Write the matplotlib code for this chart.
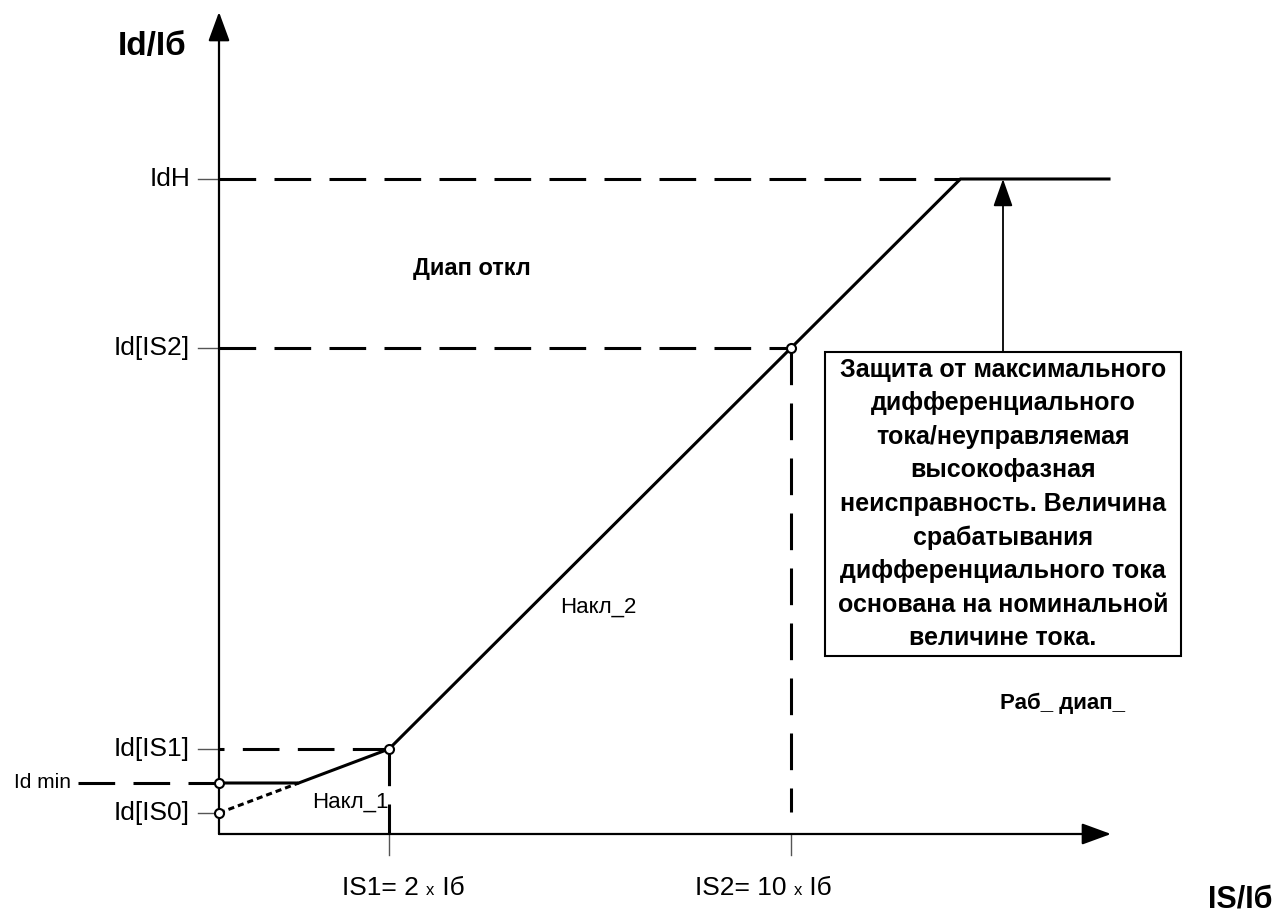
import matplotlib
matplotlib.use("Agg")
import matplotlib.pyplot as plt
from matplotlib.patches import Rectangle
from matplotlib.offsetbox import TextArea, HPacker, AnnotationBbox

plt.rcParams['font.family'] = ['Liberation Sans', 'DejaVu Sans']

# schematic levels (arbitrary units, not to scale)
y_names = ['Id[IS0]', 'Id min', 'Id[IS1]', 'Id[IS2]', 'IdH']
y_vals = [0.21, 0.51, 0.85, 4.86, 6.55]
x_names = ['IS1', 'IS2']
x_mult = ['2', '10']
x_vals = [1.70, 5.72]
x_end = 8.90
y_top = 8.22

box_text = ("Защита от максимального\nдифференциального\nтока/неуправляемая\n"
            "высокофазная\nнеисправность. Величина\nсрабатывания\n"
            "дифференциального тока\nоснована на номинальной\nвеличине тока.")

is0, idmin, is1y, is2y, idh = y_vals
xs1, xs2 = x_vals
slope1 = (is1y - is0) / xs1
slope2 = (is2y - is1y) / (xs2 - xs1)
x_knee = (idmin - is0) / slope1
x_h = xs2 + (idh - is2y) / slope2

fig = plt.figure(figsize=(12.87, 9.14), dpi=100)
ax = fig.add_axes([0, 0, 1, 1])
ax.set_xlim(-2.19, 10.68)
ax.set_ylim(-0.80, 8.34)
ax.axis('off')

lw = 2.2
dash = dict(color='black', lw=lw, dashes=(12, 6))

# axes with arrows
arr = dict(arrowstyle='-|>,head_length=0.9,head_width=0.33', color='black', lw=1.6,
           mutation_scale=20, shrinkA=0, shrinkB=0)
ax.annotate('', xy=(0, y_top), xytext=(0, 0), arrowprops=arr)
ax.annotate('', xy=(x_end + 0.02, 0), xytext=(0, 0), arrowprops=arr)

# y ticks + labels
for name, v in zip(y_names, y_vals):
    if name == 'Id min':
        ax.text(-1.48, v, name, ha='right', va='center', fontsize=15)
        ax.plot([-1.41, 0], [v, v], **dash)
    else:
        ax.plot([-0.21, 0], [v, v], color='#555555', lw=1)
        ax.text(-0.29, v, name, ha='right', va='center', fontsize=19)

# dashed guides
ax.plot([xs1, 0], [is1y, is1y], **dash)
ax.plot([0, xs2], [is2y, is2y], **dash)
ax.plot([0, x_h], [idh, idh], **dash)
ax.plot([xs1, xs1], [is1y, 0], **dash)
ax.plot([xs2, xs2], [is2y, 0.22], **dash)
for xv in x_vals:
    ax.plot([xv, xv], [0, -0.21], color='#555555', lw=1)

# characteristic
ax.plot([0, x_knee], [is0, idmin], color='black', lw=lw, dashes=(2, 1.3))
ax.plot([0, x_knee, xs1, xs2, x_h, x_end], [idmin, idmin, is1y, is2y, idh, idh],
        color='black', lw=lw, solid_joinstyle='miter')
ax.plot([0, 0, xs1, xs2], [is0, idmin, is1y, is2y], 'o', ms=6.5, mfc='white',
        mec='black', mew=1.5, zorder=5)

# box and arrow
bx0, bx1, by0, by1 = 6.06, 9.62, 1.78, 4.82
ax.add_patch(Rectangle((bx0, by0), bx1 - bx0, by1 - by0, fill=False, ec='black', lw=1.5))
ax.text((bx0 + bx1) / 2, (by0 + by1) / 2, box_text, ha='center', va='center',
        fontsize=18, fontweight='bold', linespacing=1.5)
ax.annotate('', xy=(7.84, idh), xytext=(7.84, by1),
            arrowprops=dict(arrowstyle='-|>,head_length=0.85,head_width=0.3', color='black',
                            lw=1.3, mutation_scale=20, shrinkA=0, shrinkB=0))

# labels
ax.text(-1.01, 7.87, 'Id/Iб', ha='left', va='center', fontsize=24, fontweight='bold')
ax.text(9.89, -0.66, 'IS/Iб', ha='left', va='center', fontsize=22, fontweight='bold')
ax.text(1.94, 5.66, 'Диап откл', ha='left', va='center', fontsize=17, fontweight='bold')
ax.text(7.81, 1.31, 'Раб_ диап_', ha='left', va='center', fontsize=16, fontweight='bold')
ax.text(0.93, 0.32, 'Накл_1', ha='left', va='center', fontsize=16)
ax.text(3.41, 2.27, 'Накл_2', ha='left', va='center', fontsize=16)

for name, m, xc in zip(x_names, x_mult, [1.84, 5.44]):
    pack = HPacker(children=[TextArea(f'{name}= {m} ', textprops=dict(fontsize=19)),
                             TextArea('x', textprops=dict(fontsize=12)),
                             TextArea(' Iб', textprops=dict(fontsize=19))],
                   align='baseline', pad=0, sep=0)
    ab = AnnotationBbox(pack, (xc, -0.54), frameon=False, box_alignment=(0.5, 0.5), pad=0)
    ax.add_artist(ab)

fig.savefig('out.png', dpi=100)
